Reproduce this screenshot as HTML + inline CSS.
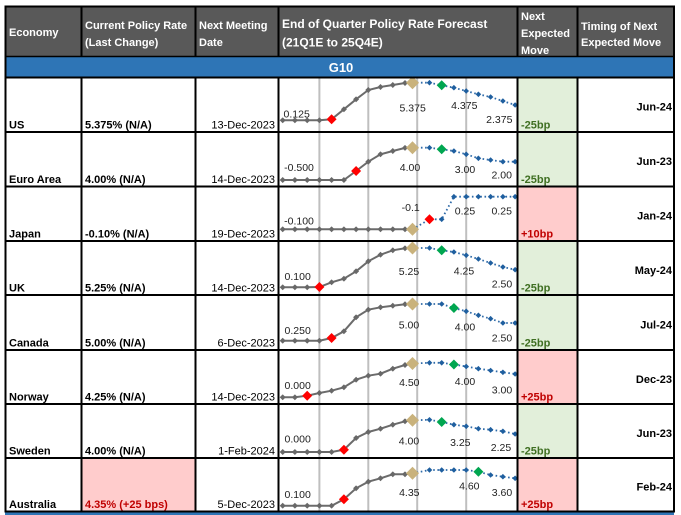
<!DOCTYPE html>
<html><head><meta charset="utf-8"><style>
html,body{margin:0;padding:0;background:#fff;}
svg{display:block;font-family:"Liberation Sans",Arial,sans-serif;}
</style></head><body>
<svg width="681" height="515" viewBox="0 0 681 515" xmlns="http://www.w3.org/2000/svg">
<defs>
<marker id="mg" viewBox="-3 -3 6 6" markerWidth="6" markerHeight="6" refX="0" refY="0" markerUnits="userSpaceOnUse"><path d="M0,-3L3,0L0,3L-3,0Z" fill="#686868"/></marker>
<marker id="mb" viewBox="-3 -3 6 6" markerWidth="6" markerHeight="6" refX="0" refY="0" markerUnits="userSpaceOnUse"><path d="M0,-2.8L2.8,0L0,2.8L-2.8,0Z" fill="#1f5f9f"/></marker>
<path id="dr" d="M0,-5L5,0L0,5L-5,0Z" fill="#ff0000"/>
<path id="dgr" d="M0,-5L5,0L0,5L-5,0Z" fill="#00a650"/>
<path id="dt" d="M0,-6.5L6.5,0L0,6.5L-6.5,0Z" fill="#c9b27c"/>
</defs>
<rect x="0" y="0" width="681" height="515" fill="#fff"/>
<!-- header -->
<rect x="5" y="6" width="669" height="50.5" fill="#595959"/>
<rect x="5" y="56.5" width="669" height="21" fill="#2e75b6"/>
<rect x="5" y="512.5" width="669" height="2.5" fill="#2e75b6"/>
<!-- move cells -->
<rect x="518" y="77" width="59" height="55" fill="#e2efda"/>
<rect x="518" y="132" width="59" height="54.5" fill="#e2efda"/>
<rect x="518" y="186.5" width="59" height="54.5" fill="#ffcccc"/>
<rect x="518" y="241" width="59" height="54" fill="#e2efda"/>
<rect x="518" y="295" width="59" height="55" fill="#e2efda"/>
<rect x="518" y="350" width="59" height="54" fill="#ffcccc"/>
<rect x="518" y="404" width="59" height="54" fill="#e2efda"/>
<rect x="518" y="458" width="59" height="54" fill="#ffcccc"/>
<rect x="82" y="458" width="113" height="54" fill="#ffcccc"/>
<!-- gridlines -->
<g stroke="#bfbfbf" stroke-width="2">
<line x1="319.4" y1="77" x2="319.4" y2="512"/>
<line x1="368.3" y1="77" x2="368.3" y2="512"/>
<line x1="417.2" y1="77" x2="417.2" y2="512"/>
<line x1="466.2" y1="77" x2="466.2" y2="512"/>
</g>
<!-- series -->
<g fill="none">
<g stroke="#6b6b6b" stroke-width="2" marker-start="url(#mg)" marker-mid="url(#mg)">
<polyline points="282.7,120.3 294.9,120.3 307.2,120.3 319.4,120.3 331.6,119.3 343.9,109.3 356.1,99.3 368.3,90 380.5,87 392.8,85 405,83 412.5,82.7"/>
<polyline points="282.7,180 294.9,180 307.2,180 319.4,180 331.6,180 343.9,180 356.1,171 368.3,161.7 380.5,154.3 392.8,151 405,147.9 412.5,147.7"/>
<polyline points="282.7,229.3 294.9,229.3 307.2,229.3 319.4,229.3 331.6,229.3 343.9,229.3 356.1,229.3 368.3,229.3 380.5,229.3 392.8,229.3 405,229.3 412.5,229.3"/>
<polyline points="282.7,287.3 294.9,287.3 307.2,287.3 319.4,287 331.6,282.3 343.9,278.7 356.1,271.3 368.3,261.3 380.5,254.7 392.8,250.3 405,248.3 412.5,248"/>
<polyline points="282.7,340.7 294.9,340.7 307.2,340.7 319.4,340.7 331.6,338 343.9,331.3 356.1,317.3 368.3,309.7 380.5,307.3 392.8,305.7 405,304.2 412.5,304"/>
<polyline points="282.7,397.3 294.9,397.3 307.2,395.7 319.4,393 331.6,390.7 343.9,387.3 356.1,379.7 368.3,375.7 380.5,373.7 392.8,368.7 405,365 412.5,363.5"/>
<polyline points="282.7,452 294.9,452 307.2,452 319.4,452 331.6,452 343.9,449.7 356.1,438 368.3,432 380.5,428.7 392.8,424.7 405,421.3 412.5,420.3"/>
<polyline points="282.7,505.7 294.9,505.7 307.2,505.7 319.4,505.7 331.6,505.7 343.9,499.3 356.1,488.3 368.3,481.7 380.5,478.3 392.8,474.3 405,474.3 412.5,473.3"/>
</g>
<g stroke="#2e6aa8" stroke-width="1.8" stroke-dasharray="1.6 2.6" marker-mid="url(#mb)" marker-end="url(#mb)">
<polyline points="412.5,82.7 429.5,82.7 441.7,85.3 453.9,87.7 466.2,91 478.4,94.3 490.6,97 502.9,101 515.1,105"/>
<polyline points="412.5,147.7 429.5,147.7 441.7,149.3 453.9,151 466.2,154.3 478.4,158.3 490.6,160 502.9,161.7 515.1,161.7"/>
<polyline points="412.5,229.3 429.5,219.3 441.7,219.3 453.9,196.7 466.2,196.7 478.4,196.7 490.6,196.7 502.9,196.7 515.1,196.7"/>
<polyline points="412.5,248 429.5,248 441.7,250.3 453.9,252 466.2,255.3 478.4,259 490.6,263 502.9,267 515.1,269.7"/>
<polyline points="412.5,304 429.5,304 441.7,304 453.9,308 466.2,311.3 478.4,315.3 490.6,318.7 502.9,323 515.1,323"/>
<polyline points="412.5,363.5 429.5,362.8 441.7,362.8 453.9,364.5 466.2,366.5 478.4,368.7 490.6,370.5 502.9,372.3 515.1,374"/>
<polyline points="412.5,420.3 429.5,419.8 441.7,422 453.9,424.7 466.2,426.3 478.4,428.7 490.6,429.7 502.9,431.3 515.1,434"/>
<polyline points="412.5,473.3 429.5,470 441.7,470 453.9,470 466.2,470 478.4,471.7 490.6,475 502.9,476.7 515.1,478.3"/>
</g>
</g>
<!-- special markers -->
<use href="#dr" x="331.6" y="119.3"/><use href="#dt" x="412.5" y="82.7"/><use href="#dgr" x="441.7" y="85.3"/>
<use href="#dr" x="356.1" y="171"/><use href="#dt" x="412.5" y="147.7"/><use href="#dgr" x="441.7" y="149.3"/>
<use href="#dt" x="412.5" y="229.3"/><use href="#dr" x="429.5" y="219.3"/>
<use href="#dr" x="319.4" y="287"/><use href="#dt" x="412.5" y="248"/><use href="#dgr" x="441.7" y="250.3"/>
<use href="#dr" x="331.6" y="338"/><use href="#dt" x="412.5" y="304"/><use href="#dgr" x="453.9" y="308"/>
<use href="#dr" x="307.2" y="395.7"/><use href="#dt" x="412.5" y="363.5"/><use href="#dgr" x="453.9" y="364.5"/>
<use href="#dr" x="343.9" y="449.7"/><use href="#dt" x="412.5" y="420.3"/><use href="#dgr" x="441.7" y="422"/>
<use href="#dr" x="343.9" y="499.3"/><use href="#dt" x="412.5" y="473.3"/><use href="#dgr" x="478.4" y="471.7"/>
<!-- chart labels -->
<g font-size="10.5" fill="#222" text-anchor="middle">
<text x="296.7" y="117.3">0.125</text><text x="412.7" y="111.3">5.375</text><text x="464.3" y="109">4.375</text><text x="499.3" y="123">2.375</text>
<text x="299" y="171">-0.500</text><text x="410" y="171">4.00</text><text x="465" y="173">3.00</text><text x="501.7" y="178.7">2.00</text>
<text x="299" y="224.3">-0.100</text><text x="410.7" y="211">-0.1</text><text x="465" y="214.3">0.25</text><text x="501.7" y="214.3">0.25</text>
<text x="297.7" y="280">0.100</text><text x="409" y="275">5.25</text><text x="464" y="274.7">4.25</text><text x="502" y="287.7">2.50</text>
<text x="297.7" y="334">0.250</text><text x="409" y="328.4">5.00</text><text x="465" y="330.7">4.00</text><text x="502" y="341.7">2.50</text>
<text x="297.7" y="389">0.000</text><text x="409.3" y="386">4.50</text><text x="465" y="385">4.00</text><text x="502" y="393.4">3.00</text>
<text x="297.7" y="442.4">0.000</text><text x="409" y="444.4">4.00</text><text x="460.3" y="446">3.25</text><text x="501" y="451">2.25</text>
<text x="297.7" y="498">0.100</text><text x="409.3" y="496">4.35</text><text x="469.3" y="489.4">4.60</text><text x="502" y="496">3.60</text>
</g>
<!-- header text -->
<g fill="#fff" font-weight="bold" font-size="11">
<text x="9" y="36">Economy</text>
<text x="85" y="29">Current Policy Rate</text><text x="85" y="46">(Last Change)</text>
<text x="199" y="29">Next Meeting</text><text x="199" y="46">Date</text>
<text x="282" y="28" font-size="12">End of Quarter Policy Rate Forecast</text>
<text x="282" y="46.5" font-size="12">(21Q1E to 25Q4E)</text>
<text x="521" y="20">Next</text><text x="521" y="37">Expected</text><text x="521" y="54">Move</text>
<text x="581" y="30">Timing of Next</text><text x="581" y="46">Expected Move</text>
<text x="341" y="72" font-size="13" text-anchor="middle">G10</text>
</g>
<!-- body text -->
<g font-size="11" fill="#000">
<g font-weight="bold">
<text x="9" y="128.5">US</text><text x="9" y="183">Euro Area</text><text x="9" y="237.5">Japan</text><text x="9" y="291.5">UK</text>
<text x="9" y="346.5">Canada</text><text x="9" y="400.5">Norway</text><text x="9" y="454.5">Sweden</text><text x="9" y="508">Australia</text>
<text x="85" y="128.5">5.375% (N/A)</text><text x="85" y="183">4.00% (N/A)</text><text x="85" y="237.5">-0.10% (N/A)</text><text x="85" y="291.5">5.25% (N/A)</text>
<text x="85" y="346.5">5.00% (N/A)</text><text x="85" y="400.5">4.25% (N/A)</text><text x="85" y="454.5">4.00% (N/A)</text><text x="85" y="508" fill="#c00000">4.35% (+25 bps)</text>
<g fill="#3f6f22">
<text x="521" y="128.5">-25bp</text><text x="521" y="183">-25bp</text><text x="521" y="291.5">-25bp</text><text x="521" y="346.5">-25bp</text><text x="521" y="454.5">-25bp</text>
</g>
<g fill="#c00000">
<text x="521" y="237.5">+10bp</text><text x="521" y="400.5">+25bp</text><text x="521" y="508">+25bp</text>
</g>
<g text-anchor="end">
<text x="672" y="110.5">Jun-24</text><text x="672" y="165">Jun-23</text><text x="672" y="219.5">Jan-24</text><text x="672" y="274">May-24</text>
<text x="672" y="328.5">Jul-24</text><text x="672" y="383">Dec-23</text><text x="672" y="437">Jun-23</text><text x="672" y="490.5">Feb-24</text>
</g>
</g>
<g text-anchor="end">
<text x="275" y="128.5">13-Dec-2023</text><text x="275" y="183">14-Dec-2023</text><text x="275" y="237.5">19-Dec-2023</text><text x="275" y="291.5">14-Dec-2023</text>
<text x="275" y="346.5">6-Dec-2023</text><text x="275" y="400.5">14-Dec-2023</text><text x="275" y="454.5">1-Feb-2024</text><text x="275" y="508">5-Dec-2023</text>
</g>
</g>
<!-- borders -->
<g stroke="#000" stroke-width="2" fill="none">
<rect x="5.5" y="6.5" width="668.5" height="505"/>
<line x1="5" y1="56.5" x2="674" y2="56.5" stroke-width="1.5"/>
<line x1="5" y1="77.5" x2="674" y2="77.5"/>
<line x1="5" y1="132" x2="674" y2="132"/>
<line x1="5" y1="186.5" x2="674" y2="186.5"/>
<line x1="5" y1="241" x2="674" y2="241"/>
<line x1="5" y1="295" x2="674" y2="295"/>
<line x1="5" y1="350" x2="674" y2="350"/>
<line x1="5" y1="404" x2="674" y2="404"/>
<line x1="5" y1="458" x2="674" y2="458"/>
<line x1="81.5" y1="6" x2="81.5" y2="56.5"/><line x1="195.5" y1="6" x2="195.5" y2="56.5"/><line x1="278.5" y1="6" x2="278.5" y2="56.5"/><line x1="517.5" y1="6" x2="517.5" y2="56.5"/><line x1="577.5" y1="6" x2="577.5" y2="56.5"/>
<line x1="81.5" y1="77" x2="81.5" y2="512"/><line x1="195.5" y1="77" x2="195.5" y2="512"/><line x1="278.5" y1="77" x2="278.5" y2="512"/><line x1="517.5" y1="77" x2="517.5" y2="512"/><line x1="577.5" y1="77" x2="577.5" y2="512"/>
</g>
</svg>
</body></html>
